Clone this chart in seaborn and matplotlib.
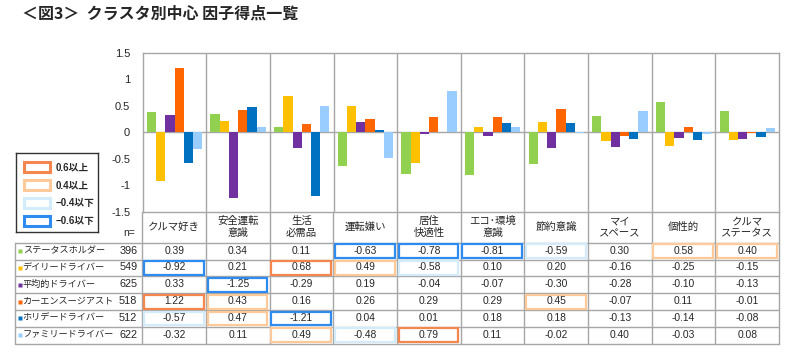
import numpy as np
import pandas as pd
import matplotlib
matplotlib.use("Agg")
import matplotlib.pyplot as plt
from matplotlib.patches import Rectangle
import seaborn as sns

# DATA
categories = ["クルマ好き", "安全運転\n意識", "生活\n必需品", "運転嫌い", "居住\n快適性",
              "エコ･環境\n意識", "節約意識", "マイ\nスペース", "個性的", "クルマ\nステータス"]
clusters = ["ステータスホルダー", "デイリードライバー", "平均的ドライバー",
            "カーエンスージアスト", "ホリデードライバー", "ファミリードライバー"]
n_sizes = [396, 549, 625, 518, 512, 622]

status_holder = [0.39, 0.34, 0.11, -0.63, -0.78, -0.81, -0.59, 0.30, 0.58, 0.40]
daily_driver = [-0.92, 0.21, 0.68, 0.49, -0.58, 0.10, 0.20, -0.16, -0.25, -0.15]
average_driver = [0.33, -1.25, -0.29, 0.19, -0.04, -0.07, -0.30, -0.28, -0.10, -0.13]
enthusiast = [1.22, 0.43, 0.16, 0.26, 0.29, 0.29, 0.45, -0.07, 0.11, -0.01]
holiday_driver = [-0.57, 0.47, -1.21, 0.04, 0.01, 0.18, 0.18, -0.13, -0.14, -0.08]
family_driver = [-0.32, 0.11, 0.49, -0.48, 0.79, 0.11, -0.02, 0.396, -0.03, 0.08]

series = [status_holder, daily_driver, average_driver, enthusiast, holiday_driver, family_driver]
colors = ["#92D050", "#FFC000", "#7030A0", "#FF6600", "#0070C0", "#99CCFF"]

legend_labels = ["0.6以上", "0.4以上", "−0.4以下", "−0.6以下"]
legend_colors = ["#F5874E", "#FFC99A", "#D3ECFB", "#2E8BF0"]

df = pd.DataFrame({
    "cat": np.tile(categories, len(clusters)),
    "cluster": np.repeat(clusters, len(categories)),
    "value": np.concatenate(series),
})

sns.set_style("white")
plt.rcParams["font.family"] = ["Liberation Sans", "Noto Sans CJK JP"]

W, H = 805, 357
fig = plt.figure(figsize=(W / 100, H / 100), dpi=100)


def px_axes(x0, y0, x1, y1):
    return fig.add_axes([x0 / W, (H - y1) / H, (x1 - x0) / W, (y1 - y0) / H])


grid_c = "#A6A6A6"

# bar chart
ax = px_axes(142.7, 53, 779, 211.7)
sns.barplot(data=df, x="cat", y="value", hue="cluster", palette=colors,
            width=0.87, saturation=1, legend=False, ax=ax, edgecolor="none",
            errorbar=None)
ax.set_xlim(-0.5, len(categories) - 0.5)
ax.set_ylim(-1.5, 1.5)
ax.set_yticks([1.5, 1, 0.5, 0, -0.5, -1, -1.5])
ax.set_yticklabels(["1.5", "1", "0.5", "0", "-0.5", "-1", "-1.5"], fontsize=8)
ax.set_xticks([])
ax.set_xlabel("")
ax.set_ylabel("")
ax.tick_params(axis="y", length=0, pad=9)
ax.axhline(0, color=grid_c, lw=1, zorder=0.5)
for b in np.arange(0.5, len(categories) - 0.5, 1):
    ax.axvline(b, color=grid_c, lw=1, zorder=0.5)
for s in ax.spines.values():
    s.set_color(grid_c)
    s.set_linewidth(1)

# table
header_top, header_bot, row_h = 211.7, 242.7, 16.8
n_rows = len(clusters)
table_bot = header_bot + n_rows * row_h
axt = px_axes(15, header_top, 779, table_bot + 1)
axt.set_xlim(-2.5, len(categories) - 0.5)
axt.set_ylim(table_bot + 1, header_top)
axt.axis("off")

for i in range(n_rows + 1):
    y = header_bot + i * row_h
    axt.plot([-2.5, len(categories) - 0.5], [y, y], color=grid_c, lw=1, clip_on=False)
for b in np.arange(-0.5, len(categories), 1):
    axt.plot([b, b], [header_top, table_bot], color=grid_c, lw=1, clip_on=False)
axt.plot([-2.5, -2.5], [header_bot, table_bot], color=grid_c, lw=1, clip_on=False)

for j, c in enumerate(categories):
    axt.text(j, (header_top + header_bot) / 2, c, ha="center", va="center",
             fontsize=7.5, linespacing=1.25)
axt.text(-0.7, 233.5, "n=", ha="center", va="center", fontsize=7.5)

for i, (name, n, vals, col) in enumerate(zip(clusters, n_sizes, series, colors)):
    yc = header_bot + (i + 0.5) * row_h
    axt.plot(-2.42, yc, marker="s", ms=3.2, color=col, mec="none")
    axt.text(-2.38, yc, name, ha="left", va="center", fontsize=6.6)
    axt.text(-0.58, yc - 0.5, str(n), ha="right", va="center", fontsize=7.8)
    for j, v in enumerate(vals):
        axt.text(j, yc - 0.5, f"{v:.2f}", ha="center", va="center", fontsize=7.4)
        if v >= 0.6:
            ec = legend_colors[0]
        elif v >= 0.4:
            ec = legend_colors[1]
        elif v <= -0.6:
            ec = legend_colors[3]
        elif v <= -0.4:
            ec = legend_colors[2]
        else:
            continue
        axt.add_patch(Rectangle((j - 0.475, yc - row_h / 2 + 1.6), 0.94, row_h - 3.0,
                                fill=False, ec=ec, lw=1.6, zorder=3))

# legend box
axl = px_axes(16, 153, 98, 232)
axl.set_xlim(0, 82)
axl.set_ylim(79, 0)
axl.set_xticks([])
axl.set_yticks([])
for s in axl.spines.values():
    s.set_color("#333333")
    s.set_linewidth(1)
for k, (lab, ec) in enumerate(zip(legend_labels, legend_colors)):
    yc = 14 + k * 18
    axl.add_patch(Rectangle((8, yc - 5), 26, 10, fill=False, ec=ec, lw=2.2))
    axl.text(40, yc, lab, ha="left", va="center", fontsize=7, fontweight="bold")

fig.text(22 / W, 1 - 14 / H, "＜図3＞  クラスタ別中心 因子得点一覧", ha="left", va="center",
         fontsize=11.5, fontweight="bold", family=["Noto Sans CJK JP"])

fig.savefig("out.png", dpi=100)
